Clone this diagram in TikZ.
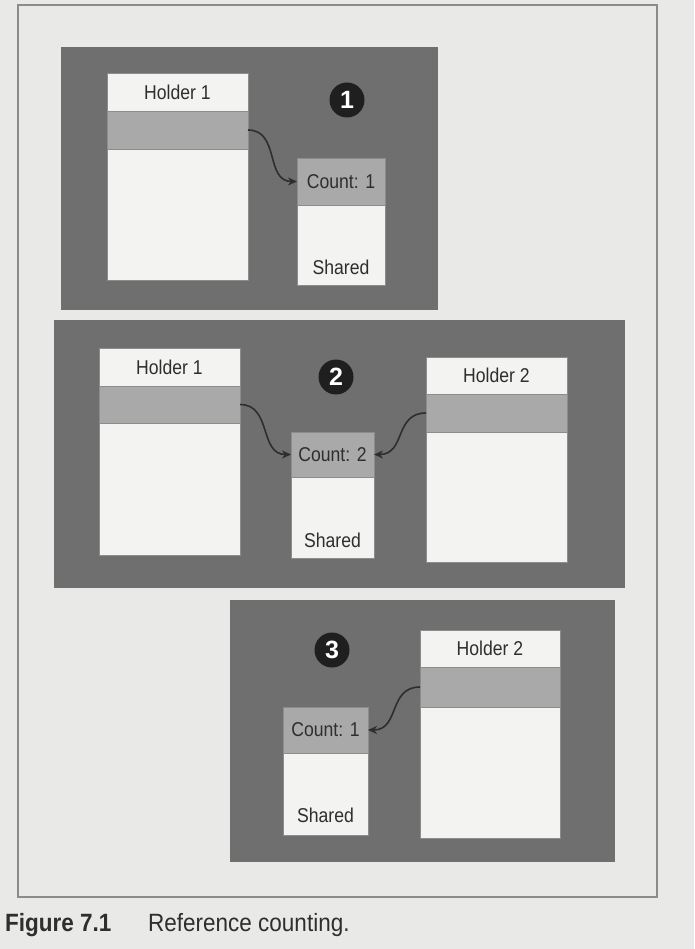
\documentclass[tikz,border=0pt]{standalone}
\usepackage{fontspec}
\setmainfont{Liberation Sans}
\newfontfamily\condfont[FakeStretch=0.88]{Liberation Sans}
\newfontfamily\capfont[FakeStretch=0.9]{Liberation Sans}
\usetikzlibrary{arrows.meta}
\definecolor{pagebg}{HTML}{E9E9E7}
\definecolor{panelc}{HTML}{6F6F6F}
\definecolor{bandc}{HTML}{A9A9A9}
\definecolor{boxc}{HTML}{F3F3F1}
\definecolor{inkc}{HTML}{2E2E2E}
\definecolor{edgec}{HTML}{8C8C8C}
\tikzset{
  panelbox/.style={fill=panelc,draw=none},
  whitecell/.style={fill=boxc,draw=edgec,line width=0.6pt,inner sep=0pt,outer sep=0pt,anchor=north west},
  graycell/.style={fill=bandc,draw=edgec,line width=0.6pt,inner sep=0pt,outer sep=0pt,anchor=north west},
  lbl/.style={text=inkc,font=\condfont\fontsize{20}{20}\selectfont,inner sep=0pt},
  numcirc/.style={circle,fill=black!88,text=white,minimum size=35pt,inner sep=0pt,font=\bfseries\fontsize{25}{25}\selectfont},
  ptr/.style={draw=inkc,line width=1.6pt,-{Stealth[length=9pt,width=8pt]}},
  capstyle/.style={anchor=base west,inner sep=0pt,text=inkc},
}
\begin{document}
\begin{tikzpicture}[x=1pt,y=-1pt]
\useasboundingbox (0,0) rectangle (694,949);
\fill[pagebg] (0,0) rectangle (694,949);
% outer frame
\draw[edgec,line width=1.2pt] (18,5) rectangle (657,897);

% ---------- panel 1 ----------
\fill[panelc] (61,47) rectangle (438,310);
\node[whitecell,minimum width=141pt,minimum height=38pt] (h1a) at (107,73) {};
\node[lbl] at (h1a.center) {Holder 1};
\node[graycell,minimum width=141pt,minimum height=38pt] (p1a) at (107,111) {};
\node[whitecell,minimum width=141pt,minimum height=131pt] (b1a) at (107,149) {};
\node[graycell,minimum width=88pt,minimum height=47pt] (c1) at (297,158) {};
\node[lbl] at (c1.center) {Count: 1};
\node[whitecell,minimum width=88pt,minimum height=80pt] (s1) at (297,205) {};
\node[lbl] (s1t) at (341,267) {Shared};
\node[numcirc] (n1) at (347,100) {1};
\draw[ptr] (p1a.east) .. controls +(32,0) and +(-32,0) .. (c1.west);

% ---------- panel 2 ----------
\fill[panelc] (54,320) rectangle (625,588);
\node[whitecell,minimum width=141pt,minimum height=38pt] (h1b) at (99,348) {};
\node[lbl] at (h1b.center) {Holder 1};
\node[graycell,minimum width=141pt,minimum height=37pt] (p1b) at (99,386) {};
\node[whitecell,minimum width=141pt,minimum height=132pt] (b1b) at (99,423) {};
\node[graycell,minimum width=83pt,minimum height=45pt] (c2) at (291,432) {};
\node[lbl] at (c2.center) {Count: 2};
\node[whitecell,minimum width=83pt,minimum height=81pt] (s2) at (291,477) {};
\node[lbl] (s2t) at (332.5,540) {Shared};
\node[whitecell,minimum width=141pt,minimum height=37pt] (h2b) at (426,357) {};
\node[lbl] at (h2b.center) {Holder 2};
\node[graycell,minimum width=141pt,minimum height=38pt] (p2b) at (426,394) {};
\node[whitecell,minimum width=141pt,minimum height=130pt] (b2b) at (426,432) {};
\node[numcirc] (n2) at (336,377) {2};
\draw[ptr] (p1b.east) .. controls +(32,0) and +(-32,0) .. (c2.west);
\draw[ptr] (p2b.west) .. controls +(-32,0) and +(32,0) .. (c2.east);

% ---------- panel 3 ----------
\fill[panelc] (230,600) rectangle (615,862);
\node[graycell,minimum width=85pt,minimum height=46pt] (c3) at (283,707) {};
\node[lbl] at (c3.center) {Count: 1};
\node[whitecell,minimum width=85pt,minimum height=82pt] (s3) at (283,753) {};
\node[lbl] (s3t) at (325.5,815) {Shared};
\node[whitecell,minimum width=140pt,minimum height=37pt] (h2c) at (420,630) {};
\node[lbl] at (h2c.center) {Holder 2};
\node[graycell,minimum width=140pt,minimum height=40pt] (p2c) at (420,667) {};
\node[whitecell,minimum width=140pt,minimum height=131pt] (b2c) at (420,707) {};
\node[numcirc] (n3) at (332,650) {3};
\draw[ptr] (p2c.west) .. controls +(-32,0) and +(32,0) .. (c3.east);

% ---------- caption ----------
\node[capstyle,font=\capfont\bfseries\fontsize{25}{25}\selectfont] (cap1) at (5,931) {Figure 7.1};
\node[capstyle,font=\capfont\fontsize{25}{25}\selectfont] (cap2) at (148,931) {Reference counting.};
\end{tikzpicture}
\end{document}
